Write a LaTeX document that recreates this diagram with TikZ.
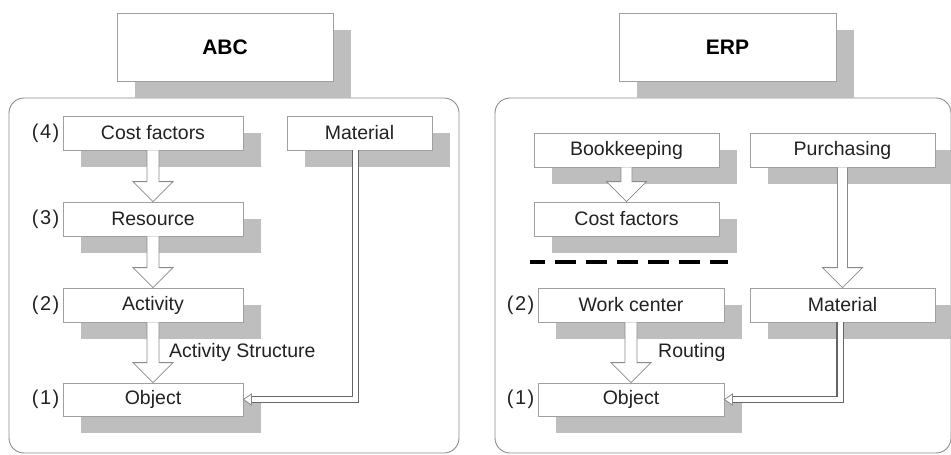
\documentclass[tikz,border=0pt]{standalone}
\usepackage{fontspec}
\setmainfont{Liberation Sans}
\usetikzlibrary{calc,shadows}
\definecolor{shadowgray}{HTML}{BEBEBE}
\definecolor{boxline}{HTML}{A0A0A0}
\definecolor{panelline}{HTML}{8C8C8C}
\definecolor{txt}{HTML}{222222}
\definecolor{arrline}{HTML}{8A8A8A}
% hollow block arrow: [shaft half width]{from}{to}
\newcommand\harrow[3][6]{%
  \filldraw[harrowstyle] ($(#2.south)+(-#1,0)$) -- ($(#3.north)+(-#1,-20)$)
    -- ($(#3.north)+(-20,-20)$) -- (#3.north) -- ($(#3.north)+(20,-20)$)
    -- ($(#3.north)+(#1,-20)$) -- ($(#2.south)+(#1,0)$);}
\newcommand\lev[1]{(\kern1.5pt#1\kern1.5pt)}
\begin{document}
\begin{tikzpicture}[x=1pt,y=-1pt,
  font=\fontsize{19.5}{23}\selectfont,
  box/.style={draw=boxline, line width=0.8pt, fill=white, inner sep=0pt,
    minimum height=34pt, text=txt,
    drop shadow={shadow xshift=18pt, shadow yshift=-17pt, fill=shadowgray, opacity=1}},
  titlebox/.style={box, minimum height=68pt, text=black,
    font=\bfseries\fontsize{21}{25}\selectfont},
  panel/.style={draw=panelline, line width=0.9pt, rounded corners=15pt,
    inner sep=0pt, fill=white},
  lbl/.style={inner sep=0pt, anchor=east, text=txt, font=\fontsize{20}{23}\selectfont},
  edgelbl/.style={inner sep=0pt, anchor=west, text=txt},
  harrowstyle/.style={draw=arrline, line width=0.8pt, fill=white, line join=miter},
  dbl/.style={draw=black!60, line width=1.4pt, double=white, double distance=5pt},
  dblhead/.style={draw=arrline, line width=0.8pt, fill=white},
  sep/.style={draw=black, line width=3.5pt, dash pattern=on 21pt off 10pt, dash phase=6pt}
]
\clip (0,0) rectangle (951,455);
\fill[white] (0,0) rectangle (951,455);

% panels
\node[panel, minimum width=450pt, minimum height=355pt] (pabc) at (234,275.5) {};
\node[panel, minimum width=456pt, minimum height=355pt] (perp) at (723,275.5) {};

% titles
\node[titlebox, minimum width=216pt] (abc) at (225,47) {ABC};
\node[titlebox, minimum width=217pt] (erp) at (727.5,47) {ERP};

% ABC boxes
\node[box, minimum width=180pt] (cf1) at (153,133) {Cost factors};
\node[box, minimum width=145pt] (mat1) at (359.5,133) {Material};
\node[box, minimum width=180pt] (res) at (153,219) {Resource};
\node[box, minimum width=180pt] (act) at (153,305) {Activity};
\node[box, minimum width=180pt, minimum height=33pt] (obj1) at (153,399.5) {Object};

\node[lbl] (l4) at ($(cf1.west)+(-3,0)$) {\lev{4}};
\node[lbl] (l3) at ($(res.west)+(-3,0)$) {\lev{3}};
\node[lbl] (l2) at ($(act.west)+(-3,0)$) {\lev{2}};
\node[lbl] (l1) at ($(obj1.west)+(-3,0)$) {\lev{1}};

% ERP boxes
\node[box, minimum width=185pt] (book) at (626.5,150) {Bookkeeping};
\node[box, minimum width=185pt] (purch) at (842.5,150) {Purchasing};
\node[box, minimum width=185pt] (cf2) at (626.5,219) {Cost factors};
\node[box, minimum width=186pt] (wc) at (631,305) {Work center};
\node[box, minimum width=185pt] (mat2) at (842.5,305) {Material};
\node[box, minimum width=186pt, minimum height=33pt] (obj2) at (631,399.5) {Object};

\node[lbl] (m2) at ($(wc.west)+(-3,0)$) {\lev{2}};
\node[lbl] (m1) at ($(obj2.west)+(-3,0)$) {\lev{1}};

% hollow arrows
\harrow{cf1}{res}
\harrow{res}{act}
\harrow{act}{obj1}
\harrow[5.5]{book}{cf2}
\harrow[5]{purch}{mat2}
\harrow{wc}{obj2}

% edge labels
\node[edgelbl] (as) at (169,352) {Activity Structure};
\node[edgelbl] (rt) at (658,352) {Routing};

% double-line connectors
\draw[dbl] ($(mat1.south)+(-4,0)$) |- ($(obj1.east)+(8,0)$);
\filldraw[dblhead] (obj1.east) -- ++(8,-5.5) -- ++(0,11) -- cycle;
\draw[dbl] ($(mat2.south)+(-2.5,0)$) |- ($(obj2.east)+(8,0)$);
\filldraw[dblhead] (obj2.east) -- ++(8,-5.5) -- ++(0,11) -- cycle;

% dashed separator
\coordinate (s1) at (530,262);
\coordinate (s2) at (728,262);
\draw[sep] (s1) -- (s2);
\end{tikzpicture}
\end{document}
